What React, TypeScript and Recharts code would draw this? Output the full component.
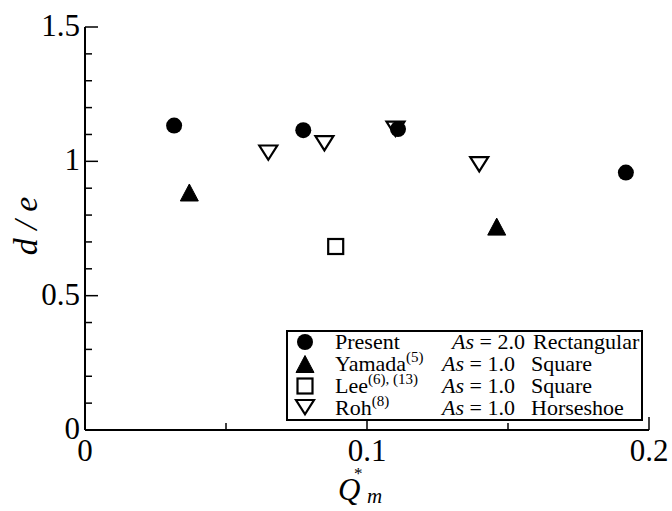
import React from 'react';
import { ScatterChart, Scatter, XAxis, YAxis, Legend } from 'recharts';

// ---- data ----
const presentX = [0.0316, 0.0774, 0.111, 0.1918];
const presentY = [1.133, 1.116, 1.12, 0.958];
const yamadaX = [0.037, 0.146];
const yamadaY = [0.884, 0.757];
const leeX = [0.0889];
const leeY = [0.683];
const rohX = [0.065, 0.0849, 0.1101, 0.1398];
const rohY = [1.031, 1.066, 1.12, 0.988];

const xTicks = [0, 0.05, 0.1, 0.15, 0.2];
const xTickLabels = ['0', '', '0.1', '', '0.2'];
const yTicks = [0, 0.1, 0.2, 0.3, 0.4, 0.5, 0.6, 0.7, 0.8, 0.9, 1.0, 1.1, 1.2, 1.3, 1.4, 1.5];
const yTickLabels = ['0', '', '', '', '', '0.5', '', '', '', '', '1', '', '', '', '', '1.5'];

const legendNames = ['Present', 'Yamada', 'Lee', 'Roh'];
const legendRefs = ['', '(5)', '(6), (13)', '(8)'];
const legendAs = ['2.0', '1.0', '1.0', '1.0'];
const legendShapes = ['Rectangular', 'Square', 'Square', 'Horseshoe'];

const toPts = (xs: number[], ys: number[]) => xs.map((x, i) => ({ x, y: ys[i] }));
const presentData = toPts(presentX, presentY);
const yamadaData = toPts(yamadaX, yamadaY);
const leeData = toPts(leeX, leeY);
const rohData = toPts(rohX, rohY);

const FONT = 'Liberation Serif, Times New Roman, serif';

// ---- marker shapes ----
const drawCircle = (cx: number, cy: number) => <circle cx={cx} cy={cy} r={8} fill="#000" />;
const drawTriUp = (cx: number, cy: number) => (
  <path d={`M${cx},${cy - 8.5} L${cx + 9},${cy + 8.5} L${cx - 9},${cy + 8.5} Z`} fill="#000" stroke="#000" strokeWidth={1} strokeLinejoin="round" />
);
const drawSquare = (cx: number, cy: number) => (
  <rect x={cx - 7.5} y={cy - 7.5} width={15} height={15} fill="none" stroke="#000" strokeWidth={2.2} />
);
const drawTriDown = (cx: number, cy: number) => (
  <path d={`M${cx - 9},${cy - 7.5} L${cx + 9},${cy - 7.5} L${cx},${cy + 6.8} Z`} fill="none" stroke="#000" strokeWidth={2.2} strokeLinejoin="miter" />
);
const shapeFns = [drawCircle, drawTriUp, drawSquare, drawTriDown];

const mkShape = (fn: (cx: number, cy: number) => React.ReactElement) => (p: any) => fn(p.cx, p.cy);

// ---- ticks ----
const findIdx = (arr: number[], v: number) => arr.findIndex((t) => Math.abs(t - v) < 1e-9);

const BottomTick = (p: any) => {
  const i = findIdx(xTicks, p.payload.value);
  const lab = xTickLabels[i] || '';
  const len = lab ? 13 : 7;
  return (
    <g>
      <line x1={p.x} y1={p.y} x2={p.x} y2={p.y - len} stroke="#000" strokeWidth={1.5} />
      {lab && (
        <text x={p.x} y={p.y + 31} textAnchor="middle" fontSize={31} fill="#000">{lab}</text>
      )}
    </g>
  );
};
const TopTick = (p: any) => {
  const i = findIdx(xTicks, p.payload.value);
  const len = xTickLabels[i] ? 13 : 7;
  return <line x1={p.x} y1={p.y} x2={p.x} y2={p.y + len} stroke="#000" strokeWidth={1.5} />;
};
const LeftTick = (p: any) => {
  const i = findIdx(yTicks, p.payload.value);
  const lab = yTickLabels[i] || '';
  const len = lab ? 13 : 7;
  return (
    <g>
      <line x1={p.x} y1={p.y} x2={p.x + len} y2={p.y} stroke="#000" strokeWidth={1.5} />
      {lab && (
        <text x={p.x - 5} y={p.y + 9} textAnchor="end" fontSize={31} fill="#000">{lab}</text>
      )}
    </g>
  );
};
const RightTick = (p: any) => {
  const i = findIdx(yTicks, p.payload.value);
  const len = yTickLabels[i] ? 13 : 7;
  return <line x1={p.x} y1={p.y} x2={p.x - len} y2={p.y} stroke="#000" strokeWidth={1.5} />;
};

// ---- axis titles ----
const XTitle = () => (
  <g fill="#000">
    <text x={338} y={500} fontSize={31} fontStyle="italic">Q</text>
    <text x={354} y={479} fontSize={17}>*</text>
    <text x={367} y={503} fontSize={21} fontStyle="italic">m</text>
  </g>
);
const YTitle = () => (
  <text x={37} y={226} transform="rotate(-90 37 226)" textAnchor="middle" fontSize={34} fontStyle="italic" fill="#000">
    d / e
  </text>
);

// ---- legend ----
const LEG_W = 357;
const LEG_H = 91;
const rowCenters = [12, 34, 56, 77.5];
const LegendBox = () => (
  <svg width={LEG_W} height={LEG_H} style={{ display: 'block', fontFamily: FONT }}>
    <rect x={1} y={1} width={LEG_W - 2} height={LEG_H - 2} fill="#fff" stroke="#000" strokeWidth={2} />
    {legendNames.map((n, i) => {
      const cy = rowCenters[i];
      const base = cy + 7;
      const asX = i === 0 ? 166 : 156;
      return (
        <g key={n} fontSize={22} fill="#000">
          {shapeFns[i](19, cy)}
          <text x={49} y={base}>
            {n}
            {legendRefs[i] && (
              <tspan fontSize={15} dy={-9}>{legendRefs[i]}</tspan>
            )}
          </text>
          <text x={asX} y={base}>
            <tspan fontStyle="italic">As</tspan> = {legendAs[i]}
          </text>
          <text x={i === 0 ? 247 : 245} y={base}>{legendShapes[i]}</text>
        </g>
      );
    })}
  </svg>
);

export default function App() {
  return (
    <div style={{ position: 'absolute', left: 0, top: 0, width: 672, height: 511, fontFamily: FONT }}>
      <ScatterChart width={672} height={511} margin={{ top: 27, right: 23, bottom: 0, left: 0 }}>
        <XAxis xAxisId="b" type="number" dataKey="x" domain={[0, 0.2]} ticks={xTicks} interval={0}
          tick={BottomTick} tickLine={false} tickSize={0} tickMargin={0}
          axisLine={{ stroke: '#000', strokeWidth: 2 }} height={81} allowDataOverflow
          label={{ content: XTitle }} />
        <XAxis xAxisId="t" orientation="top" type="number" dataKey="x" domain={[0, 0.2]} ticks={xTicks} interval={0}
          tick={TopTick} tickLine={false} tickSize={0} tickMargin={0}
          axisLine={{ stroke: '#000', strokeWidth: 2 }} height={0} allowDataOverflow />
        <YAxis yAxisId="l" type="number" dataKey="y" domain={[0, 1.5]} ticks={yTicks} interval={0}
          tick={LeftTick} tickLine={false} tickSize={0} tickMargin={0}
          axisLine={{ stroke: '#000', strokeWidth: 2 }} width={85} allowDataOverflow
          label={{ content: YTitle }} />
        <YAxis yAxisId="r" orientation="right" type="number" dataKey="y" domain={[0, 1.5]} ticks={yTicks} interval={0}
          tick={RightTick} tickLine={false} tickSize={0} tickMargin={0}
          axisLine={{ stroke: '#000', strokeWidth: 2 }} width={0} allowDataOverflow />
        <Scatter name="Present" xAxisId="b" yAxisId="l" data={presentData} shape={mkShape(drawCircle)} isAnimationActive={false} />
        <Scatter name="Yamada" xAxisId="b" yAxisId="l" data={yamadaData} shape={mkShape(drawTriUp)} isAnimationActive={false} />
        <Scatter name="Lee" xAxisId="b" yAxisId="l" data={leeData} shape={mkShape(drawSquare)} isAnimationActive={false} />
        <Scatter name="Roh" xAxisId="b" yAxisId="l" data={rohData} shape={mkShape(drawTriDown)} isAnimationActive={false} />
        <Scatter name="frame" xAxisId="t" yAxisId="r" data={[]} isAnimationActive={false} legendType="none" />
        <Legend layout="vertical" align="center" verticalAlign="middle" content={LegendBox}
          wrapperStyle={{ left: 286, top: 330, width: LEG_W, height: LEG_H }} />
      </ScatterChart>
    </div>
  );
}
